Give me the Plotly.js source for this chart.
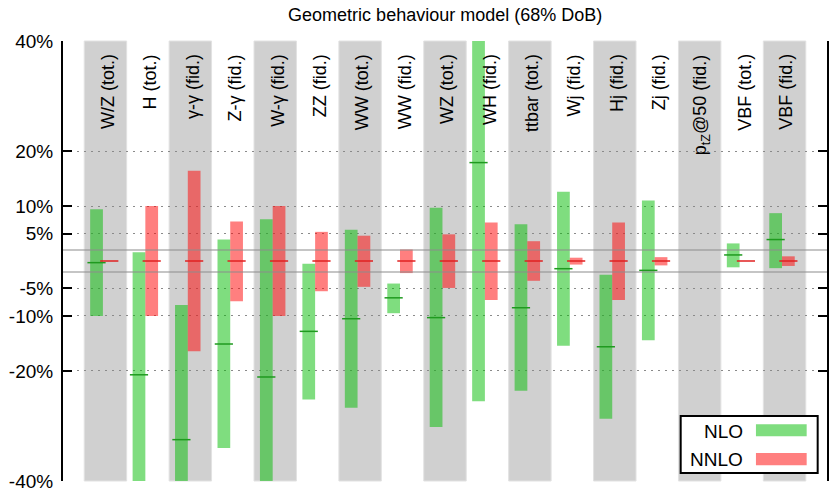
<!DOCTYPE html>
<html>
<head>
<meta charset="utf-8">
<script src="https://cdn.plot.ly/plotly-3.0.1.min.js"></script>
<style>html,body{margin:0;padding:0;background:#fff;} #chart{width:829px;height:491px;}</style>
</head>
<body>
<div id="chart"></div>
<script>
const categories = ["W/Z (tot.)","H (tot.)","γ-γ (fid.)","Z-γ (fid.)","W-γ (fid.)","ZZ (fid.)","WW (tot.)","WW (fid.)","WZ (tot.)","WH (fid.)","ttbar (tot.)","Wj (fid.)","Hj (fid.)","Zj (fid.)","p<sub>tZ</sub>@50 (fid.)","VBF (tot.)","VBF (fid.)"];
const nloLow   = [-10, -40, -40, -34, -40, -25.2, -26.7, -9.5, -30.2, -25.5, -23.6, -15.4, -28.7, -14.4, null, -1.15, -1.3];
const nloHigh  = [9.4, 1.6, -8.0, 3.9, 7.6, -0.5, 5.7, -4.1, 9.7, 40, 6.7, 12.6, -2.5, 11.0, null, 3.2, 8.7];
const nloMid   = [-0.3, -20.7, -32.5, -15.1, -21.1, -12.8, -10.5, -6.7, -10.3, 17.9, -8.5, -1.4, -15.6, -1.7, null, 1.1, 3.9];
const nnloLow  = [0, -10, -16.4, -7.3, -10, -5.5, -4.7, -2.2, -4.9, -7.1, -3.6, -0.65, -7.1, -0.8, null, 0, -0.9];
const nnloHigh = [0, 10, 16.4, 7.2, 10, 5.3, 4.6, 2.1, 4.85, 7.0, 3.6, 0.6, 7.0, 0.7, null, 0, 0.85];
const nnloMid  = [0, 0, 0, 0, 0, 0, 0, 0, 0, 0, 0, 0, 0, 0, null, 0, 0];
const yTickVals = [-40, -20, -10, -5, 5, 10, 20, 40];
const yTickText = ["-40%", "-20%", "-10%", "-5%", "5%", "10%", "20%", "40%"];
const bandLines = [2, -2];

const FONT = "Liberation Sans, Arial, Helvetica, sans-serif";
const idx = categories.map((_, i) => i);
const nloX = idx.map(i => i - 0.21);
const nnloX = idx.map(i => i + 0.09);
const greenFill = "rgba(0,187,0,0.5)";
const redFill = "rgba(255,0,0,0.5)";

const traces = [
  {type: "bar", x: nloX, base: nloLow, y: nloHigh.map((h, i) => h == null ? null : h - nloLow[i]),
   width: 0.3, marker: {color: greenFill, line: {width: 0}}, hoverinfo: "skip", showlegend: false},
  {type: "bar", x: nnloX, base: nnloLow, y: nnloHigh.map((h, i) => h == null ? null : h - nnloLow[i]),
   width: 0.3, marker: {color: redFill, line: {width: 0}}, hoverinfo: "skip", showlegend: false},
  {type: "scatter", mode: "markers", x: nloX, y: nloMid, cliponaxis: true,
   marker: {symbol: "line-ew", size: 13, color: "#1f9a1f", line: {width: 1.5, color: "#1f9a1f"}}, hoverinfo: "skip", showlegend: false},
  {type: "scatter", mode: "markers", x: nnloX, y: nnloMid, cliponaxis: true,
   marker: {symbol: "line-ew", size: 13, color: "#e02020", line: {width: 1.5, color: "#e02020"}}, hoverinfo: "skip", showlegend: false}
];

const shapes = [];
idx.forEach(i => {
  if (i % 2 === 0) {
    shapes.push({type: "rect", layer: "between", xref: "x", yref: "paper", x0: i - 0.5, x1: i + 0.5, y0: 0, y1: 1,
      fillcolor: "#d0d0d0", line: {width: 1, color: "#e2e2e2"}});
  }
});
bandLines.forEach(v => {
  shapes.push({type: "line", layer: "above", xref: "paper", yref: "y", x0: 0, x1: 1, y0: v, y1: v,
    line: {width: 2, color: "rgba(140,140,140,0.5)"}});
});
// legend box (drawn manually, text left of swatch)
shapes.push({type: "rect", layer: "above", xref: "paper", yref: "paper", x0: 0.8085, x1: 0.9878, y0: 0.0182, y1: 0.1477,
  fillcolor: "#ffffff", line: {width: 2, color: "#000"}});
shapes.push({type: "rect", layer: "above", xref: "paper", yref: "paper", x0: 0.907, x1: 0.9734, y0: 0.1016, y1: 0.1289,
  fillcolor: greenFill, line: {width: 0}});
shapes.push({type: "rect", layer: "above", xref: "paper", yref: "paper", x0: 0.907, x1: 0.9734, y0: 0.0357, y1: 0.0636,
  fillcolor: redFill, line: {width: 0}});

const annotations = categories.map((c, i) => ({
  text: c, x: i, y: 40, xref: "x", yref: "y", textangle: -90, xanchor: "center", yanchor: "top",
  yshift: -11, xshift: 2, showarrow: false, font: {family: FONT, size: 18, color: "#000"}
}));
annotations.push({text: "NLO", xref: "paper", yref: "paper", x: 0.8927, y: 0.1130, xanchor: "right", yanchor: "middle",
  showarrow: false, font: {family: FONT, size: 19, color: "#000"}});
annotations.push({text: "NNLO", xref: "paper", yref: "paper", x: 0.8927, y: 0.0493, xanchor: "right", yanchor: "middle",
  showarrow: false, font: {family: FONT, size: 19, color: "#000"}});

const layout = {
  width: 829, height: 491,
  margin: {l: 63, r: 2, t: 41, b: 10},
  paper_bgcolor: "#fff", plot_bgcolor: "#fff",
  font: {family: FONT, color: "#000"},
  title: {text: "Geometric behaviour model (68% DoB)", x: 0.537, xanchor: "center", y: 0.97, yanchor: "middle",
    font: {family: FONT, size: 18, color: "#000"}},
  barmode: "overlay",
  showlegend: false,
  xaxis: {range: [-1, 17], showgrid: false, zeroline: false, showticklabels: false, ticks: "", showline: false, fixedrange: true},
  yaxis: {range: [-40.02, 40.02], tickvals: yTickVals, ticktext: yTickText, ticks: "inside", ticklen: 9, tickwidth: 2, tickcolor: "#000",
    showline: true, linewidth: 2, linecolor: "#000", mirror: "ticks", zeroline: false,
    showgrid: true, gridcolor: "#8a8a8a", gridwidth: 1, griddash: "2px,5px", ticklabeloverflow: "allow",
    tickfont: {family: FONT, size: 19, color: "#000"}, ticklabelstandoff: 4},
  shapes: shapes,
  annotations: annotations
};

Plotly.newPlot("chart", traces, layout, {displayModeBar: false, staticPlot: true});
</script>
</body>
</html>
